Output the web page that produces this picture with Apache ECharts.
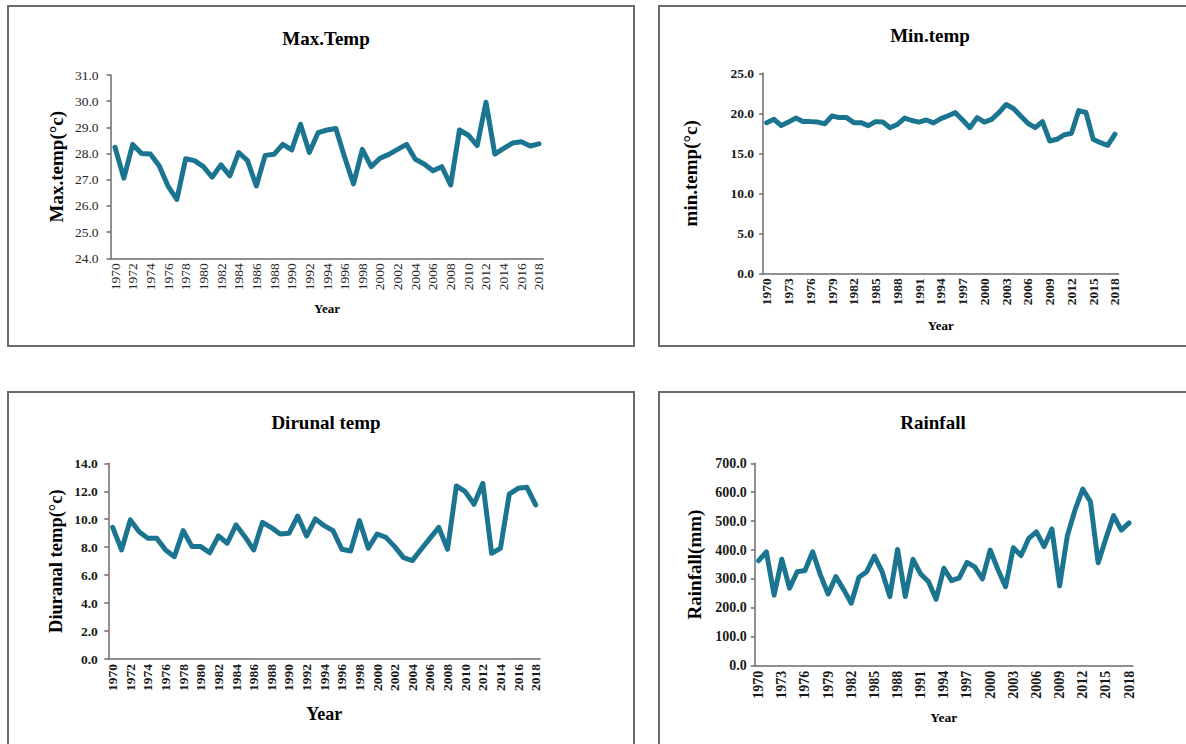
<!DOCTYPE html>
<html>
<head>
<meta charset="utf-8">
<script src="https://cdn.jsdelivr.net/npm/echarts@6/dist/echarts.min.js"></script>
<style>
  html, body { margin: 0; padding: 0; background: #ffffff; }
  #chart { width: 1186px; height: 744px; }
</style>
</head>
<body>
<div id="chart"></div>
<script>
// Annual climate series, 1970-2018
const years = [];
for (let y = 1970; y <= 2018; y++) years.push(String(y));

const maxTemp = [
  28.24, 27.06, 28.35, 28.00, 27.98, 27.53, 26.76, 26.25, 27.80, 27.73,
  27.50, 27.10, 27.57, 27.15, 28.04, 27.73, 26.76, 27.93, 27.97, 28.35,
  28.14, 29.12, 28.04, 28.80, 28.90, 28.96, 27.86, 26.84, 28.16, 27.50,
  27.82, 27.97, 28.16, 28.35, 27.78, 27.60, 27.34, 27.50, 26.80, 28.90,
  28.70, 28.30, 29.96, 27.98, 28.20, 28.40, 28.45, 28.29, 28.37
];

const minTemp = [
  18.83, 19.25, 18.46, 18.90, 19.40, 18.96, 18.96, 18.90, 18.70, 19.67,
  19.46, 19.46, 18.83, 18.83, 18.46, 18.96, 18.90, 18.20, 18.60, 19.40,
  19.10, 18.90, 19.17, 18.80, 19.33, 19.70, 20.08, 19.17, 18.20, 19.46,
  18.90, 19.25, 20.08, 21.10, 20.60, 19.67, 18.75, 18.20, 18.96, 16.54,
  16.75, 17.30, 17.50, 20.33, 20.10, 16.75, 16.33, 16.00, 17.40
];

const diurnalTemp = [
  9.42, 7.80, 9.95, 9.11, 8.63, 8.63, 7.80, 7.32, 9.18, 8.04,
  8.04, 7.60, 8.80, 8.28, 9.59, 8.75, 7.80, 9.78, 9.40, 8.94,
  8.99, 10.23, 8.80, 10.02, 9.54, 9.18, 7.85, 7.73, 9.90, 7.92,
  8.94, 8.70, 8.04, 7.25, 7.04, 7.85, 8.63, 9.42, 7.85, 12.38,
  11.97, 11.07, 12.57, 7.56, 7.92, 11.80, 12.21, 12.28, 11.02
];

const rainfall = [
  363, 394, 244, 368, 268, 325, 329, 394, 314, 248,
  308, 264, 216, 306, 325, 379, 325, 239, 402, 239,
  368, 317, 291, 230, 337, 294, 304, 357, 342, 300,
  400, 333, 273, 408, 381, 440, 463, 412, 473, 276,
  449, 539, 611, 567, 356, 440, 519, 469, 494
];

const FONT = '"Liberation Serif", "Times New Roman", serif';
const LINE_COLOR = '#1b7590';
const AXIS_COLOR = '#6b6b6b';

const panels = [
  {
    title: 'Max.Temp', titleX: 321, titleY: 24,
    grid: { left: 110.6, top: 75, width: 432.8, height: 183.3 },
    data: maxTemp, min: 24, max: 31, interval: 1,
    yName: 'Max.temp(°c)', yNameGap: 45, yNameSize: 19,
    xName: 'Year', xNameGap: 44, xNameSize: 13,
    labelBold: false, labelSize: 13.5, xInterval: 1, yMargin: 12
  },
  {
    title: 'Min.temp', titleX: 925, titleY: 21,
    grid: { left: 763.1, top: 73.3, width: 355.5, height: 200 },
    data: minTemp, min: 0, max: 25, interval: 5,
    yName: 'min.temp(°c)', yNameGap: 63, yNameSize: 19,
    xName: 'Year', xNameGap: 46, xNameSize: 13,
    labelBold: true, labelSize: 13.5, xInterval: 2, yMargin: 9
  },
  {
    title: 'Dirunal temp', titleX: 321, titleY: 408,
    grid: { left: 108.3, top: 463.3, width: 431.8, height: 195.7 },
    data: diurnalTemp, min: 0, max: 14, interval: 2,
    yName: 'Diuranal temp(°c)', yNameGap: 43, yNameSize: 18.5,
    xName: 'Year', xNameGap: 46, xNameSize: 18,
    labelBold: true, labelSize: 13.5, xInterval: 1, yMargin: 10.5
  },
  {
    title: 'Rainfall', titleX: 928, titleY: 408,
    grid: { left: 754.8, top: 463.3, width: 378.1, height: 202.4 },
    data: rainfall, min: 0, max: 700, interval: 100,
    yName: 'Rainfall(mm)', yNameGap: 51, yNameSize: 19,
    xName: 'Year', xNameGap: 45, xNameSize: 13.5,
    labelBold: true, labelSize: 14, xInterval: 2, yMargin: 8
  }
];

const option = {
  backgroundColor: '#ffffff',
  animation: false,
  title: panels.map(p => ({
    text: p.title,
    left: p.titleX,
    top: p.titleY,
    textAlign: 'center',
    textStyle: { fontFamily: FONT, fontSize: 19, fontWeight: 'bold', color: '#000000' }
  })),
  grid: panels.map(p => Object.assign({ containLabel: false }, p.grid)),
  xAxis: panels.map((p, i) => ({
    type: 'category',
    gridIndex: i,
    data: years,
    boundaryGap: true,
    name: p.xName,
    nameLocation: 'middle',
    nameGap: p.xNameGap,
    nameTextStyle: { fontFamily: FONT, fontSize: p.xNameSize, fontWeight: 'bold', color: '#000000' },
    axisLine: { lineStyle: { color: AXIS_COLOR, width: 1.5 } },
    axisTick: { show: false },
    axisLabel: {
      rotate: 90,
      interval: p.xInterval,
      margin: 5,
      fontFamily: FONT,
      fontSize: p.labelSize,
      fontWeight: p.labelBold ? 'bold' : 'normal',
      color: p.labelBold ? '#1a1a1a' : '#262626'
    },
    splitLine: { show: false }
  })),
  yAxis: panels.map((p, i) => ({
    type: 'value',
    gridIndex: i,
    min: p.min,
    max: p.max,
    interval: p.interval,
    name: p.yName,
    nameLocation: 'middle',
    nameRotate: 90,
    nameGap: p.yNameGap,
    nameTextStyle: { fontFamily: FONT, fontSize: p.yNameSize, fontWeight: 'bold', color: '#000000' },
    axisLine: { show: true, lineStyle: { color: AXIS_COLOR, width: 1.5 } },
    axisTick: { show: true, length: 4, lineStyle: { color: AXIS_COLOR, width: 1.5 } },
    axisLabel: {
      margin: p.yMargin,
      formatter: v => v.toFixed(1),
      fontFamily: FONT,
      fontSize: p.labelSize,
      fontWeight: p.labelBold ? 'bold' : 'normal',
      color: p.labelBold ? '#1a1a1a' : '#262626'
    },
    splitLine: { show: false }
  })),
  series: panels.map((p, i) => ({
    type: 'line',
    xAxisIndex: i,
    yAxisIndex: i,
    data: p.data,
    symbol: 'none',
    lineStyle: { color: LINE_COLOR, width: 5, join: 'round', cap: 'round' }
  })),
  // Panel frames
  graphic: [
    { type: 'rect', shape: { x: 8, y: 6, width: 626, height: 340 },
      style: { fill: 'none', stroke: AXIS_COLOR, lineWidth: 2 }, silent: true },
    { type: 'rect', shape: { x: 659, y: 6, width: 540, height: 340 },
      style: { fill: 'none', stroke: AXIS_COLOR, lineWidth: 2 }, silent: true },
    { type: 'rect', shape: { x: 8, y: 392, width: 626, height: 370 },
      style: { fill: 'none', stroke: AXIS_COLOR, lineWidth: 2 }, silent: true },
    { type: 'rect', shape: { x: 659, y: 392, width: 540, height: 370 },
      style: { fill: 'none', stroke: AXIS_COLOR, lineWidth: 2 }, silent: true }
  ]
};

const chart = echarts.init(document.getElementById('chart'), null, { renderer: 'svg' });
chart.setOption(option);
</script>
</body>
</html>
